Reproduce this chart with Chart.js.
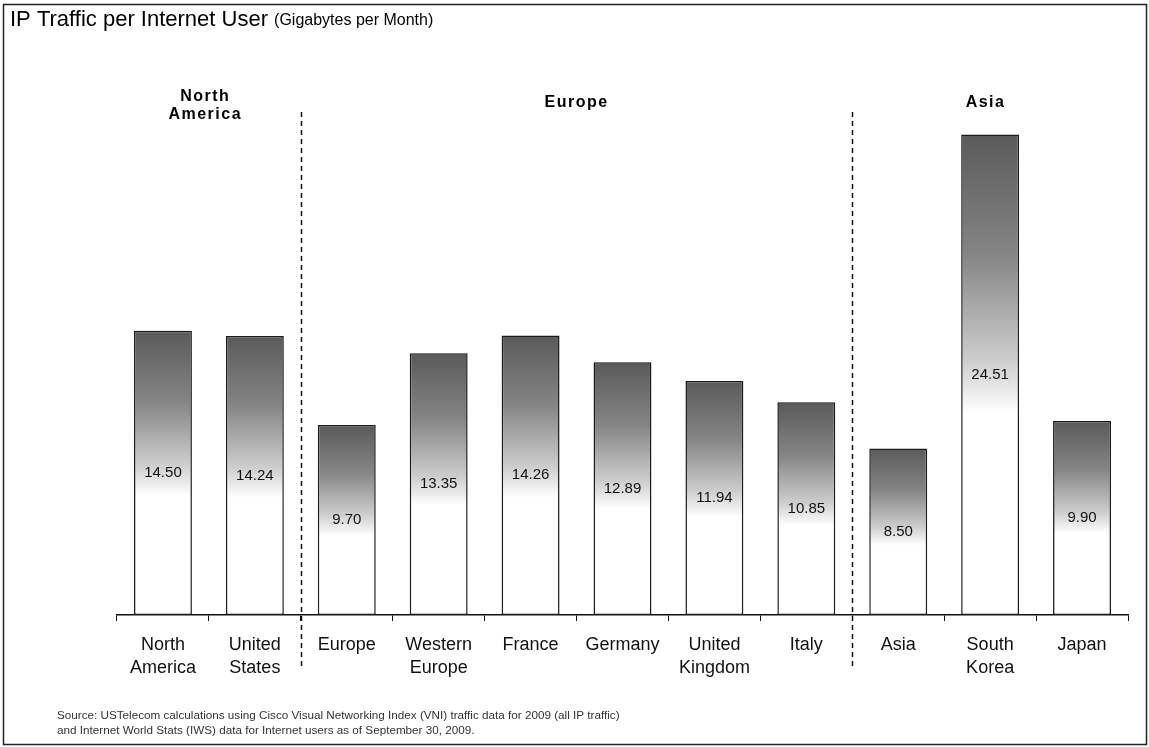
<!DOCTYPE html>
<html>
<head>
<meta charset="utf-8">
<script src="https://cdn.jsdelivr.net/npm/chart.js@4.4.0/dist/chart.umd.min.js"></script>
<style>
  html, body { margin: 0; padding: 0; background: #fff; }
  #wrap { position: relative; width: 1149px; height: 747px; }
</style>
</head>
<body>
<div id="wrap"><canvas id="chart" width="1149" height="747"></canvas></div>
<script>
const categories = [
    ["North", "America"], ["United", "States"], ["Europe"], ["Western", "Europe"],
    ["France"], ["Germany"], ["United", "Kingdom"], ["Italy"],
    ["Asia"], ["South", "Korea"], ["Japan"]
];
const traffic = [14.50, 14.24, 9.70, 13.35, 14.26, 12.89, 11.94, 10.85, 8.50, 24.51, 9.90];
// region headers, centred on a (fractional) category index
const regionNames = [["North", "America"], ["Europe"], ["Asia"]];
const regionCentres = [0.46, 4.5, 8.95];
const dividers = [1.5, 7.5];

const FONT = "'Liberation Sans', Arial, sans-serif";

function barGradient(context) {
    const chart = context.chart;
    if (!chart.chartArea) return "#999";
    const y = chart.scales.y;
    const top = y.getPixelForValue(context.raw);
    const bottom = y.getPixelForValue(0);
    const g = chart.ctx.createLinearGradient(0, top, 0, bottom);
    g.addColorStop(0, "#5a5a5a");
    g.addColorStop(0.25, "#858585");
    g.addColorStop(0.47, "#cdcdcd");
    g.addColorStop(0.58, "#ffffff");
    g.addColorStop(1, "#ffffff");
    return g;
}

// title, region labels, dashed dividers, value labels, frame
const decorations = {
    id: "decorations",
    afterDraw(chart) {
        const c = chart.ctx;
        const x = chart.scales.x;
        c.save();

        // frame
        c.strokeStyle = "#222";
        c.lineWidth = 1.5;
        c.strokeRect(3.5, 4.5, 1143, 740);

        // title
        c.fillStyle = "#000";
        c.textBaseline = "middle";
        c.textAlign = "left";
        c.font = "22px " + FONT;
        const t1 = "IP Traffic per Internet User ";
        c.fillText(t1, 10, 20);
        const w1 = c.measureText(t1).width;
        c.font = "16px " + FONT;
        c.fillText("(Gigabytes per Month)", 10 + w1, 21);

        // region headers
        c.font = "bold 16px " + FONT;
        c.textAlign = "center";
        if ("letterSpacing" in c) c.letterSpacing = "1.5px";
        regionNames.forEach((lines, r) => {
            const cx = x.getPixelForValue(regionCentres[r]);
            const y0 = lines.length > 1 ? 97 : 103;
            lines.forEach((ln, i) => c.fillText(ln, cx, y0 + i * 18));
        });
        if ("letterSpacing" in c) c.letterSpacing = "0px";

        // dashed dividers
        c.strokeStyle = "#111";
        c.lineWidth = 1.5;
        c.setLineDash([5, 4]);
        dividers.forEach(d => {
            const px = Math.round(x.getPixelForValue(d)) + 0.5;
            c.beginPath();
            c.moveTo(px, 112);
            c.lineTo(px, 670);
            c.stroke();
        });
        c.setLineDash([]);

        // value labels at the middle of each bar
        c.font = "15px " + FONT;
        c.fillStyle = "#111";
        c.textAlign = "center";
        const meta = chart.getDatasetMeta(0);
        meta.data.forEach((bar, i) => {
            const mid = (bar.y + bar.base) / 2;
            c.fillText(traffic[i].toFixed(2), bar.x, mid);
        });

        // source note
        c.font = "11.7px " + FONT;
        c.fillStyle = "#333";
        c.textAlign = "left";
        c.fillText("Source: USTelecom calculations using Cisco Visual Networking Index (VNI) traffic data for 2009 (all IP traffic)", 57, 716);
        c.fillText("and Internet World Stats (IWS) data for Internet users as of September 30, 2009.", 57, 731);

        c.restore();
    }
};

new Chart(document.getElementById("chart"), {
    type: "bar",
    data: {
        labels: categories,
        datasets: [{
            data: traffic,
            backgroundColor: barGradient,
            borderColor: "#1a1a1a",
            borderWidth: 1.5,
            borderSkipped: false,
            barPercentage: 0.63,
            categoryPercentage: 1
        }]
    },
    options: {
        responsive: false,
        animation: false,
        events: [],
        layout: { padding: { left: 117, right: 21, top: 125, bottom: 52 } },
        plugins: {
            legend: { display: false },
            tooltip: { enabled: false }
        },
        scales: {
            y: {
                display: false,
                min: 0,
                max: 25
            },
            x: {
                afterFit(scale) { scale.height = 80; },
                border: { display: true, color: "#111", width: 1.5 },
                grid: {
                    drawOnChartArea: false,
                    drawTicks: true,
                    tickLength: 6,
                    color: "#111",
                    lineWidth: 1
                },
                ticks: {
                    color: "#111",
                    padding: 12,
                    maxRotation: 0,
                    autoSkip: false,
                    font: { family: FONT, size: 18, lineHeight: 1.3 }
                }
            }
        }
    },
    plugins: [decorations]
});
</script>
</body>
</html>
